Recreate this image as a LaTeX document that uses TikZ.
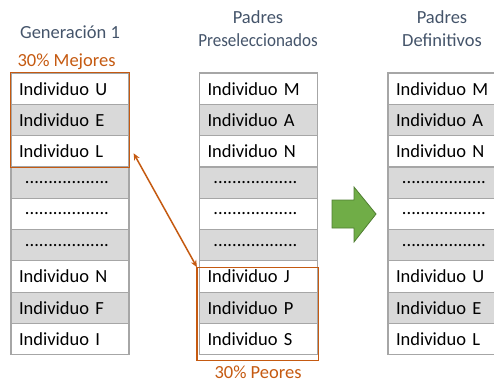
\documentclass[tikz,border=0pt]{standalone}
\usepackage{fontspec}
\setmainfont{Carlito}
\usetikzlibrary{arrows.meta}

\definecolor{gris}{HTML}{D9D9D9}
\definecolor{bord}{HTML}{A6A6A6}
\definecolor{ardoise}{HTML}{44546A}
\definecolor{orange}{HTML}{C55A11}
\definecolor{vert}{HTML}{70AD47}
\definecolor{vertfonce}{HTML}{507E32}

\newcommand{\pts}{\makebox[\linewidth][c]{..................\hspace{6pt}}}

\begin{document}
\begin{tikzpicture}[x=1pt,y=-1pt,
  ligne/.style={draw=bord, line width=1.2pt, minimum width=118pt, minimum height=31.3pt,
    inner xsep=8pt, inner ysep=2pt, text width=102pt, align=left,
    font=\fontsize{18.5}{22}\selectfont},
  titre/.style={text=ardoise, align=center, font=\fontsize{18.5}{23}\selectfont},
  pourcent/.style={text=orange, font=\fontsize{18.5}{22}\selectfont}]

\useasboundingbox (0,0) rectangle (494,383);

% Titres
\node[titre] (t1) at (70,32) {Generación 1};
\node[titre] (t2) at (258,29) {Padres\\\scalebox{0.92}[1]{Preseleccionados}};
\node[titre] (t3) at (442,29) {Padres\\Definitivos};

% Generation 1
\foreach \lettre [count=\i] in {U,E,L,-,-,-,N,F,I} {
  \ifodd\i \def\fond{white}\else \def\fond{gris}\fi
  \if-\lettre \def\txt{\pts}\else \def\txt{Individuo \lettre}\fi
  \node[ligne, fill=\fond] (a\i) at (70,57.35+\i*31.3) {\txt};
}

% Padres preseleccionados
\foreach \lettre [count=\i] in {M,A,N,-,-,-,J,P,S} {
  \ifodd\i \def\fond{white}\else \def\fond{gris}\fi
  \if-\lettre \def\txt{\pts}\else \def\txt{Individuo \lettre}\fi
  \node[ligne, fill=\fond] (b\i) at (258.5,57.35+\i*31.3) {\txt};
}

% Padres definitivos
\foreach \lettre [count=\i] in {M,A,N,-,-,-,U,E,L} {
  \ifodd\i \def\fond{white}\else \def\fond{gris}\fi
  \if-\lettre \def\txt{\pts}\else \def\txt{Individuo \lettre}\fi
  \node[ligne, fill=\fond] (c\i) at (447,57.35+\i*31.3) {\txt};
}

% 30% mejores / peores
\draw[orange, line width=1.2pt] (a1.north west) rectangle (a3.south east);
\node[pourcent, anchor=west] (mej) at (14,62) {30\% Mejores};
\draw[orange, line width=1.2pt] ([shift={(-2,7)}]b7.north west) rectangle ([shift={(0,5)}]b9.south east);
\node[pourcent] (peo) at (258,372) {30\% Peores};

% Echange
\coordinate (bout1) at ([shift={(4,2)}]a3.east);
\coordinate (bout2) at ([shift={(-2,7)}]b7.north west);
\draw[orange, line width=1.5pt, {Stealth[length=7pt,width=6pt]}-{Stealth[length=7pt,width=6pt]}] (bout1) -- (bout2);

% Fleche verte
\filldraw[fill=vert, draw=vertfonce, line width=0.8pt]
  (332,200) -- (354,200) -- (354,187) -- (376,214) -- (354,242) -- (354,228) -- (332,228) -- cycle;

\end{tikzpicture}
\end{document}
